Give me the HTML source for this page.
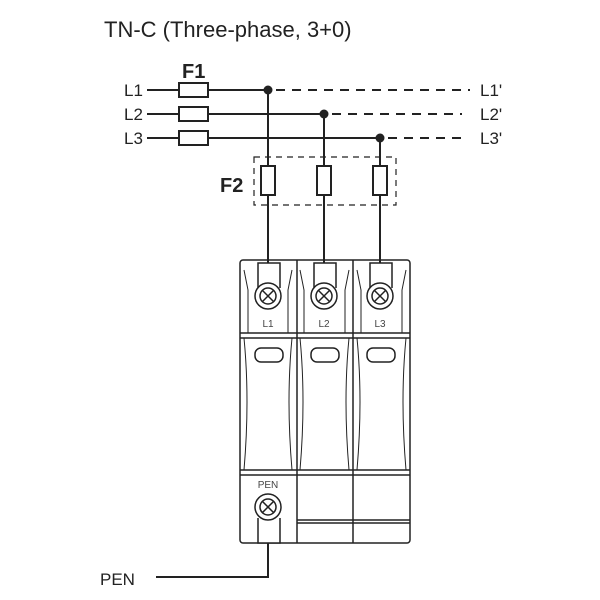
<!DOCTYPE html>
<html><head><style>body{margin:0;background:#fff}svg{display:block}</style></head><body>
<svg width="600" height="600" viewBox="0 0 600 600" xmlns="http://www.w3.org/2000/svg" font-family="Liberation Sans, sans-serif">
<text x="104" y="37" font-size="22" fill="#222">TN-C (Three-phase, 3+0)</text>
<text x="182" y="78" font-size="20" font-weight="bold" fill="#222">F1</text>
<text x="220" y="192" font-size="20" font-weight="bold" fill="#222">F2</text>
<g font-size="17" fill="#222">
<text x="124" y="96">L1</text><text x="124" y="120">L2</text><text x="124" y="144">L3</text>
<text x="480" y="96">L1'</text><text x="480" y="120">L2'</text><text x="480" y="144">L3'</text>
<text x="100" y="585">PEN</text>
</g>
<g stroke="#222" stroke-width="2" fill="none">
<line x1="147" y1="90" x2="268" y2="90"/>
<line x1="147" y1="114" x2="324" y2="114"/>
<line x1="147" y1="138" x2="380" y2="138"/>
<g stroke-dasharray="9,7">
<line x1="276" y1="90" x2="470" y2="90"/>
<line x1="332" y1="114" x2="462" y2="114"/>
<line x1="388" y1="138" x2="462" y2="138"/>
</g>
<rect x="179" y="83" width="29" height="14" fill="#fff"/>
<rect x="179" y="107" width="29" height="14" fill="#fff"/>
<rect x="179" y="131" width="29" height="14" fill="#fff"/>
<line x1="268" y1="90" x2="268" y2="263"/>
<line x1="324" y1="114" x2="324" y2="263"/>
<line x1="380" y1="138" x2="380" y2="263"/>
<rect x="254" y="157" width="142" height="48" stroke-width="1.2" stroke-dasharray="6,5"/>
<rect x="261" y="166" width="14" height="29" fill="#fff"/>
<rect x="317" y="166" width="14" height="29" fill="#fff"/>
<rect x="373" y="166" width="14" height="29" fill="#fff"/>
<polyline points="268,543 268,577 156,577"/>
</g>
<g fill="#222"><circle cx="268" cy="90" r="4.5"/><circle cx="324" cy="114" r="4.5"/><circle cx="380" cy="138" r="4.5"/></g>
<g stroke="#222" stroke-width="1.5" fill="none">
<rect x="240" y="260" width="170" height="283" rx="3"/>
<line x1="297" y1="260" x2="297" y2="543"/><line x1="353" y1="260" x2="353" y2="543"/>
<line x1="240" y1="333" x2="410" y2="333"/><line x1="240" y1="338" x2="410" y2="338"/>
<line x1="240" y1="470" x2="410" y2="470"/><line x1="240" y1="475" x2="410" y2="475"/>
<line x1="297" y1="520" x2="410" y2="520"/><line x1="297" y1="523" x2="410" y2="523"/>
<g stroke-width="1">
<path d="M244,270 L248,290 L248,333 M292,270 L288,290 L288,333 M300,270 L304,290 L304,333 M349,270 L345,290 L345,333 M357,270 L361,290 L361,333 M406,270 L402,290 L402,333"/>
<path d="M244,338 Q250,400 244,470 M292,338 Q286,400 292,470 M300,338 Q306,400 300,470 M349,338 Q343,400 349,470 M357,338 Q363,400 357,470 M406,338 Q400,400 406,470"/>
</g>
</g>
<g stroke="#222" stroke-width="1.5" fill="#fff">
<path d="M258,288 V263 H280 V288"/><path d="M314,288 V263 H336 V288"/><path d="M370,288 V263 H392 V288"/>
<path d="M258,518 V543 H280 V518"/>
</g>
<g stroke="#222" stroke-width="1.5" fill="#fff">
<circle cx="268" cy="296" r="13"/><circle cx="268" cy="296" r="8"/>
<circle cx="324" cy="296" r="13"/><circle cx="324" cy="296" r="8"/>
<circle cx="380" cy="296" r="13"/><circle cx="380" cy="296" r="8"/>
<circle cx="268" cy="507" r="13"/><circle cx="268" cy="507" r="8"/>
<path d="M262,290 L274,302 M274,290 L262,302 M318,290 L330,302 M330,290 L318,302 M374,290 L386,302 M386,290 L374,302 M262,501 L274,513 M274,501 L262,513"/>
<rect x="255" y="348" width="28" height="14" rx="6"/>
<rect x="311" y="348" width="28" height="14" rx="6"/>
<rect x="367" y="348" width="28" height="14" rx="6"/>
</g>
<g font-size="10" fill="#444" text-anchor="middle">
<text x="268" y="327">L1</text><text x="324" y="327">L2</text><text x="380" y="327">L3</text>
<text x="268" y="488">PEN</text>
</g>
</svg>
</body></html>
